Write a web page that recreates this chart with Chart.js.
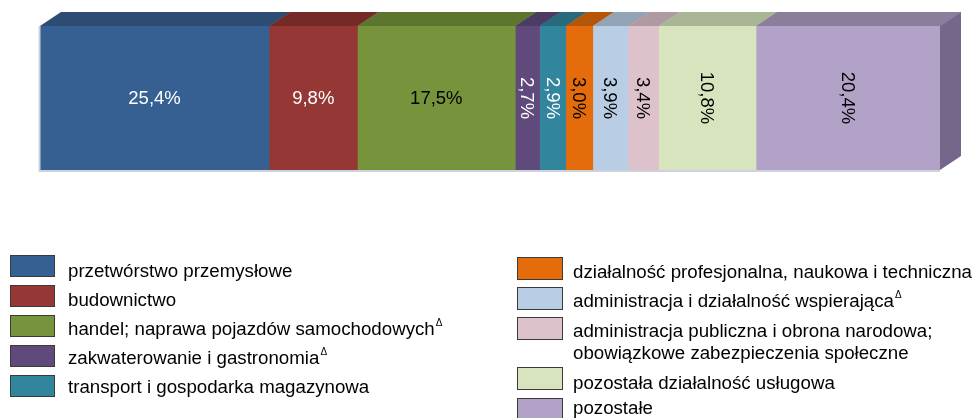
<!DOCTYPE html>
<html><head><meta charset="utf-8">
<script src="https://cdn.jsdelivr.net/npm/chart.js@4.4.0/dist/chart.umd.min.js"></script>
<style>
html,body{margin:0;padding:0;background:#fff;}
#wrap{position:relative;width:974px;height:418px;overflow:hidden;font-family:"Liberation Sans",Arial,sans-serif;}
#c{position:absolute;left:0;top:0;}
.box{position:absolute;box-sizing:border-box;border:1px solid #3a3a3a;}
.txt{position:absolute;white-space:pre;line-height:22px;font-size:18.7px;color:#000;}
.d{font-size:10px;position:relative;top:-9px;margin-left:1px;}
</style></head>
<body>
<div id="wrap"><canvas id="c" width="974" height="418"></canvas></div>
<script>
// ---- data ----
const categories = [
  'przetwórstwo przemysłowe',
  'budownictwo',
  'handel; naprawa pojazdów samochodowych',
  'zakwaterowanie i gastronomia',
  'transport i gospodarka magazynowa',
  'działalność profesjonalna, naukowa i techniczna',
  'administracja i działalność wspierająca',
  'administracja publiczna i obrona narodowa;\nobowiązkowe zabezpieczenia społeczne',
  'pozostała działalność usługowa',
  'pozostałe'
];
const deltaMark = [false, false, true, true, false, false, true, false, false, false];
const values = [25.4, 9.8, 17.5, 2.7, 2.9, 3.0, 3.9, 3.4, 10.8, 20.4];

// ---- styles ----
const frontColors = ['#376092','#953735','#77933C','#604A7B','#31859C','#E46C0A','#B9CDE5','#DDC2CB','#D7E4BD','#B3A2C7'];
const topColors   = ['#2C4C73','#752A28','#5E7530','#4C3B62','#276A7C','#B45508','#93A3B6','#AF9AA2','#AAB596','#8B7E9B'];
const sideColor = '#74678A';
const labelColors = ['#fff','#fff','#000','#fff','#fff','#000','#000','#000','#000','#000'];
const labelRotated = [false,false,false,true,true,true,true,true,true,true];
const DX = 21, DY = 14;

const total = values.reduce((a,b)=>a+b,0);

const bar3d = {
  id: 'bar3d',
  afterDatasetsDraw(chart) {
    const ctx = chart.ctx;
    const n = chart.data.datasets.length;
    ctx.save();
    const area = chart.chartArea;
    ctx.strokeStyle = '#CDD3DD';
    ctx.lineWidth = 2;
    ctx.beginPath();
    ctx.moveTo(area.left - 0.5, area.top);
    ctx.lineTo(area.left - 0.5, area.bottom + 1);
    ctx.lineTo(area.right, area.bottom + 1);
    ctx.stroke();
    for (let i = 0; i < n; i++) {
      const el = chart.getDatasetMeta(i).data[0];
      const x0 = Math.min(el.base, el.x), x1 = Math.max(el.base, el.x);
      const top = el.y - el.height / 2, bot = el.y + el.height / 2;
      ctx.fillStyle = topColors[i];
      ctx.beginPath();
      ctx.moveTo(x0, top);
      ctx.lineTo(x0 + DX, top - DY);
      ctx.lineTo(x1 + DX + 0.5, top - DY);
      ctx.lineTo(x1 + 0.5, top);
      ctx.closePath();
      ctx.fill();
      if (i === n - 1) {
        ctx.fillStyle = sideColor;
        ctx.beginPath();
        ctx.moveTo(x1, top);
        ctx.lineTo(x1 + DX, top - DY);
        ctx.lineTo(x1 + DX, bot - DY);
        ctx.lineTo(x1, bot);
        ctx.closePath();
        ctx.fill();
      }
    }
    ctx.font = '18.5px "Liberation Sans", Arial, sans-serif';
    ctx.textAlign = 'center';
    ctx.textBaseline = 'middle';
    for (let i = 0; i < n; i++) {
      const el = chart.getDatasetMeta(i).data[0];
      const cx = (el.base + el.x) / 2, cy = el.y;
      const txt = values[i].toFixed(1).replace('.', ',') + '%';
      ctx.fillStyle = labelColors[i];
      ctx.save();
      ctx.translate(cx, cy);
      if (labelRotated[i]) ctx.rotate(Math.PI / 2);
      ctx.fillText(txt, 0, 1);
      ctx.restore();
    }
    ctx.restore();
  }
};

new Chart(document.getElementById('c'), {
  type: 'bar',
  data: {
    labels: [''],
    datasets: categories.map((c, i) => ({
      label: c,
      data: [values[i]],
      backgroundColor: frontColors[i],
      borderWidth: 0,
      barPercentage: 1,
      categoryPercentage: 1,
      stack: 's'
    }))
  },
  options: {
    indexAxis: 'y',
    responsive: false,
    animation: false,
    layout: { padding: { left: 40, right: 34, top: 26, bottom: 248 } },
    scales: {
      x: { stacked: true, min: 0, max: total, display: false },
      y: { stacked: true, display: false }
    },
    plugins: { legend: { display: false }, tooltip: { enabled: false } }
  },
  plugins: [bar3d]
});

// ---- HTML legend ----
const legendLayout = [
  {bx:10, bt:255, bw:45, bh:22, tx:68, base:277},
  {bx:10, bt:285, bw:45, bh:22, tx:68, base:306},
  {bx:10, bt:315, bw:45, bh:22, tx:68, base:335},
  {bx:10, bt:345, bw:45, bh:22, tx:68, base:364},
  {bx:10, bt:375, bw:45, bh:22, tx:68, base:393},
  {bx:517, bt:257, bw:46, bh:23, tx:573, base:278},
  {bx:517, bt:287, bw:46, bh:23, tx:573, base:307},
  {bx:517, bt:317, bw:46, bh:23, tx:573, base:337},
  {bx:517, bt:367, bw:46, bh:23, tx:573, base:389},
  {bx:517, bt:398, bw:46, bh:23, tx:573, base:414}
];
const wrap = document.getElementById('wrap');
categories.forEach((c, i) => {
  const L = legendLayout[i];
  const b = document.createElement('div');
  b.className = 'box';
  b.style.cssText = `left:${L.bx}px;top:${L.bt}px;width:${L.bw}px;height:${L.bh}px;background:${frontColors[i]}`;
  wrap.appendChild(b);
  const t = document.createElement('div');
  t.className = 'txt';
  t.style.left = L.tx + 'px';
  t.style.top = (L.base - 17) + 'px';
  t.textContent = c;
  if (deltaMark[i]) {
    const s = document.createElement('span');
    s.className = 'd';
    s.textContent = 'Δ';
    t.appendChild(s);
  }
  wrap.appendChild(t);
});
</script>
</body></html>
